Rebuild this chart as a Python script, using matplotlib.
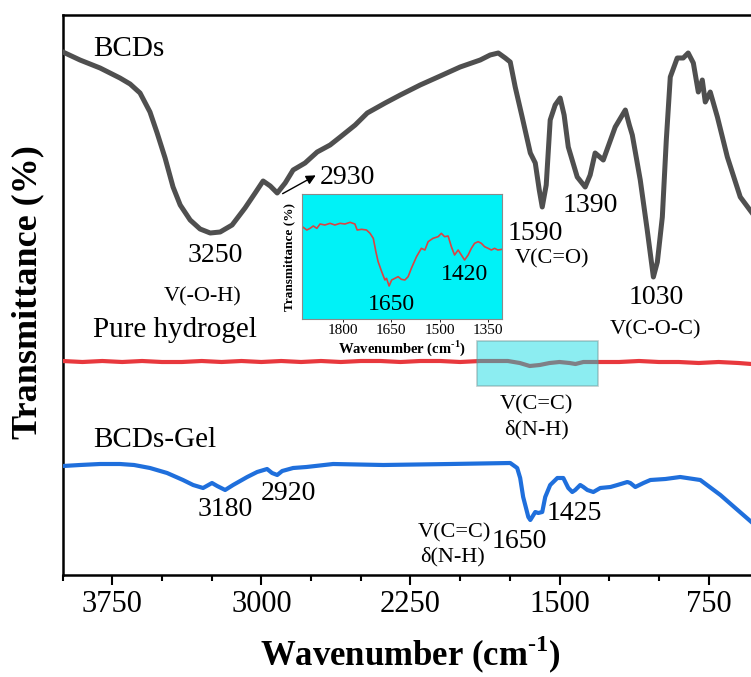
import matplotlib
matplotlib.use('Agg')
import matplotlib.pyplot as plt
from matplotlib.patches import Rectangle
from matplotlib.ticker import MultipleLocator

# ---------------- data ----------------
bcd_wn = [3998, 3912, 3811, 3711, 3660, 3610, 3560, 3524, 3484, 3444, 3408, 3358, 3308, 3257,
          3207, 3147, 3082, 3031, 2991, 2955, 2920, 2880, 2840, 2780, 2719, 2654, 2603, 2528,
          2467, 2377, 2301, 2201, 2100, 2000, 1899, 1849, 1808, 1773, 1748, 1723, 1688, 1647,
          1622, 1602, 1587, 1567, 1547, 1522, 1497, 1477, 1456, 1411, 1371, 1346, 1321, 1280,
          1220, 1169, 1149, 1134, 1094, 1059, 1028, 1008, 983, 963, 943, 908, 878, 853, 827,
          802, 782, 767, 742, 706, 656, 591, 535]
bcd_T = [523, 515, 507, 497, 491, 482, 463, 442, 417, 388, 370, 355, 346, 342,
         343, 350, 367, 382, 394, 389, 382, 392, 405, 412, 423, 430, 438, 450,
         462, 472, 480, 490, 499, 508, 515, 520, 522, 517, 513, 488, 458, 422,
         412, 385, 368, 390, 455, 470, 477, 460, 428, 398, 388, 400, 422, 415,
         448, 465, 450, 440, 395, 345, 298, 313, 358, 435, 498, 517, 517, 522, 512,
         483, 495, 473, 483, 458, 418, 378, 363]

gel_wn = [4000, 3900, 3800, 3700, 3600, 3500, 3400, 3300, 3200, 3100, 3000, 2900, 2800, 2700,
          2600, 2500, 2400, 2300, 2200, 2100, 2000, 1900, 1800, 1760, 1700, 1650, 1600, 1550,
          1500, 1450, 1420, 1380, 1300, 1200, 1100, 1000, 900, 800, 700, 600, 535]
gel_T = [214, 213, 214, 213, 214, 213, 213, 214, 213, 214, 213, 214, 213, 214,
         213, 214, 214, 213, 214, 214, 213, 214, 214, 214, 212, 209, 210, 212,
         213, 212, 211, 213, 213, 213, 214, 213, 213, 212, 213, 212, 211]

bgel_wn = [3997, 3912, 3811, 3711, 3640, 3560, 3474, 3394, 3343, 3293, 3248, 3222, 3182, 3142,
           3071, 3021, 2971, 2946, 2920, 2895, 2840, 2773, 2639, 2387, 2050, 1748, 1713, 1698,
           1683, 1657, 1647, 1622, 1607, 1587, 1572, 1547, 1511, 1481, 1456, 1436, 1421, 1396,
           1380, 1360, 1330, 1295, 1244, 1209, 1159, 1144, 1119, 1078, 1043, 968, 893, 792,
           691, 616, 535]
bgel_T = [109, 110, 111, 111, 110, 107, 102, 95, 90, 87, 92, 89, 85, 90,
          98, 103, 106, 102, 100, 104, 107, 108, 111, 110, 111, 112, 107, 97,
          78, 58, 55, 63, 62, 63, 78, 90, 97, 97, 87, 83, 85, 90,
          88, 85, 83, 87, 88, 90, 93, 92, 88, 92, 95, 96, 98, 95,
          80, 67, 53]

inset_wn = [1926, 1912, 1902, 1892, 1881, 1871, 1856, 1840, 1825, 1809, 1794, 1778, 1763, 1756,
            1742, 1727, 1716, 1706, 1698, 1691, 1680, 1670, 1665, 1657, 1649, 1639, 1629, 1619,
            1608, 1598, 1588, 1572, 1557, 1546, 1536, 1521, 1505, 1495, 1485, 1474, 1464, 1454,
            1443, 1433, 1423, 1412, 1402, 1392, 1381, 1371, 1361, 1350, 1340, 1330, 1320, 1307]
inset_T = [277, 267, 272, 279, 272, 285, 282, 287, 282, 287, 285, 290, 285, 267,
           269, 267, 257, 242, 202, 172, 142, 117, 122, 99, 117, 122, 127, 119,
           117, 127, 152, 187, 212, 207, 232, 242, 247, 257, 247, 249, 217, 192,
           207, 192, 177, 192, 212, 227, 232, 227, 217, 212, 207, 212, 207, 209]

main_ticks = [3750, 3000, 2250, 1500, 750]
inset_ticks = [1800, 1650, 1500, 1350]

# ---------------- style ----------------
plt.rcParams['font.family'] = ['Liberation Serif', 'DejaVu Serif']
plt.rcParams['mathtext.fontset'] = 'custom'
plt.rcParams['mathtext.rm'] = 'Liberation Serif'
plt.rcParams['mathtext.bf'] = 'Liberation Serif:bold'

W, H = 751, 677
fig = plt.figure(figsize=(W / 100, H / 100), dpi=100)
ax = fig.add_axes([62.5 / W, (H - 575) / H, (W - 62.5) / W, (575 - 15) / H])

ax.plot(bcd_wn, bcd_T, color='#4f4f4f', lw=3.6, solid_joinstyle='round', zorder=3)
ax.plot(gel_wn, gel_T, color='#e8383d', lw=3.0, zorder=3)
ax.plot(bgel_wn, bgel_T, color='#1f6fdc', lw=3.0, solid_joinstyle='round', zorder=3)

ax.add_patch(Rectangle((1914, 189), 1305 - 1914, 45, facecolor='#00d8e0', alpha=0.45,
                       edgecolor='#6f8f8f', lw=1.2, zorder=4))

ax.set_xlim(4000, 537)
ax.set_ylim(0, 560)
ax.set_yticks([])
ax.set_xticks(main_ticks)
ax.xaxis.set_minor_locator(MultipleLocator(250))
ax.tick_params(axis='x', which='major', direction='out', length=7, width=1.5,
               labelsize=22, pad=4)
ax.tick_params(axis='x', which='minor', direction='out', length=4.5, width=1.5)
ax.spines['right'].set_visible(False)
for s in ['left', 'top', 'bottom']:
    ax.spines[s].set_linewidth(1.8)

def t(s, x, y, size, ha='center'):
    ax.text(x, y, s, fontsize=size, ha=ha, va='center', zorder=5)

t('BCDs', 3848, 526, 21, ha='left')
t('3250', 3230, 320, 20)
t('V(-O-H)', 3293, 278, 16)
t('2930', 2704, 398, 20, ha='left')
ax.annotate('', xy=(2714, 401), xytext=(2905, 380),
            arrowprops=dict(arrowstyle='-|>', color='black', lw=1.0, mutation_scale=14))
t('1590', 1622, 342, 20)
t('V(C=O)', 1536, 316, 16)
t('1390', 1345, 369, 20)
t('1030', 1013, 277, 20)
t('V(C-O-C)', 1018, 245, 16)
t('Pure hydrogel', 3848, 245, 21, ha='left')
t('V(C=C)', 1618, 170, 16)
t('δ(N-H)', 1618, 145, 16)
t('BCDs-Gel', 3848, 135, 21, ha='left')
t('3180', 3182, 66, 20)
t('2920', 2864, 82, 20)
t('1650', 1700, 34, 20)
t('1425', 1425, 62, 20)
t('V(C=C)', 2030, 42, 16)
t('δ(N-H)', 2040, 18, 16)

xlab = 'Wavenumber (cm$^{\\mathbf{\\text{-}1}}$)'
fig.text(410 / W, 1 - 655 / H, xlab, fontsize=25,
         fontweight='bold', ha='center', va='center')
fig.text(28 / W, 1 - 292 / H, 'Transmittance (%)', fontsize=26, fontweight='bold',
         ha='center', va='center', rotation=90)

# ---------------- inset ----------------
axi = fig.add_axes([302 / W, (H - 319) / H, 200 / W, 125 / H])
axi.set_facecolor('#00f2f7')
axi.plot(inset_wn, inset_T, color='#d94444', lw=1.2)
axi.set_xlim(1927, 1307)
axi.set_ylim(0, 375)
axi.set_yticks([])
axi.set_xticks(inset_ticks)
axi.tick_params(axis='x', direction='out', length=2, width=0.6, labelsize=11, pad=1.5)
for s in axi.spines.values():
    s.set_color('#8a8a8a')
    s.set_linewidth(0.8)
axi.text(1650, 45, '1650', fontsize=17, ha='center', va='center')
axi.text(1422, 135, '1420', fontsize=17, ha='center', va='center')
fig.text(402 / W, 1 - 348 / H, xlab, fontsize=10.5,
         fontweight='bold', ha='center', va='center')
fig.text(289 / W, 1 - 257 / H, 'Transmittance (%)', fontsize=9.5, fontweight='bold',
         ha='center', va='center', rotation=90)

fig.savefig('out.png', dpi=100)
